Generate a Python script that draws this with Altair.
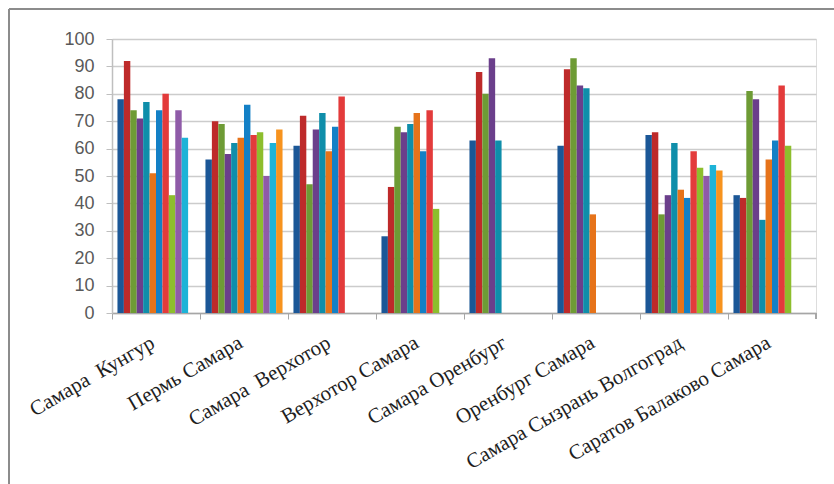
import altair as alt
import pandas as pd

categories = [
    "Самара\u00a0 Кунгур",
    "Пермь Самара",
    "Самара\u00a0 Верхотор",
    "Верхотор Самара",
    "Самара Оренбург",
    "Оренбург Самара",
    "Самара Сызрань Волгоград",
    "Саратов Балаково Самара",
]

series_names = [f"Ряд {i}" for i in range(1, 13)]

colors = [
    "#1B5797", "#BE2A2A", "#6E9B35", "#6B3F8B", "#0F8EAA", "#E6731A",
    "#1380C6", "#E33B3B", "#8DBE2D", "#8F5BA8", "#1DB3D7", "#F7931E",
]

samara_kungur = [78, 92, 74, 71, 77, 51, 74, 80, 43, 74, 64]
perm_samara = [56, 70, 69, 58, 62, 64, 76, 65, 66, 50, 62, 67]
samara_verkhotor = [61, 72, 47, 67, 73, 59, 68, 79]
verkhotor_samara = [28, 46, 68, 66, 69, 73, 59, 74, 38]
samara_orenburg = [63, 88, 80, 93, 63]
orenburg_samara = [61, 89, 93, 83, 82, 36]
samara_syzran_volgograd = [65, 66, 36, 43, 62, 45, 42, 59, 53, 50, 54, 52]
saratov_balakovo_samara = [43, 42, 81, 78, 34, 56, 63, 83, 61]

values_by_category = [
    samara_kungur, perm_samara, samara_verkhotor, verkhotor_samara,
    samara_orenburg, orenburg_samara, samara_syzran_volgograd,
    saratov_balakovo_samara,
]

rows = []
for cat, vals in zip(categories, values_by_category):
    for i, v in enumerate(vals):
        rows.append({"cat": cat, "series": series_names[i], "value": v})
df = pd.DataFrame(rows)

W, H = 704, 274

bars = alt.Chart(df).mark_bar().encode(
    x=alt.X(
        "cat:N",
        sort=categories,
        scale=alt.Scale(paddingInner=0, paddingOuter=0),
        axis=alt.Axis(
            title=None,
            bandPosition=0,
            labelAngle=330,
            labelAlign="right",
            labelBaseline="middle",
            labelFont="Liberation Serif",
            labelFontSize=21,
            labelColor="#1E1E1E",
            labelPadding=22,
            labelOffset=-3,
            tickSize=6,
            tickColor="#A6A6A6",
            domainColor="#A6A6A6",
            domainWidth=1.5,
            grid=False,
            labelLimit=400,
        ),
    ),
    xOffset=alt.XOffset(
        "series:N",
        sort=series_names,
        scale=alt.Scale(domain=series_names, paddingInner=0, paddingOuter=0.85),
    ),
    y=alt.Y(
        "value:Q",
        scale=alt.Scale(domain=[0, 100], nice=False),
        axis=alt.Axis(
            title=None,
            values=list(range(0, 101, 10)),
            labelFont="Liberation Sans",
            labelFontSize=18,
            labelColor="#595959",
            labelPadding=12,
            tickSize=6,
            tickColor="#BFBFBF",
            domainColor="#BFBFBF",
            domainWidth=1.5,
            gridColor="#CCCCCC",
            gridWidth=1.5,
        ),
    ),
    color=alt.Color(
        "series:N",
        scale=alt.Scale(domain=series_names, range=colors),
        legend=None,
    ),
)

end_tick = alt.Chart(df).mark_rule(color="#A6A6A6", strokeWidth=1).encode(
    x=alt.value(W), y=alt.value(H), y2=alt.value(H + 6)
)

frame_top = alt.Chart(df).mark_rule(color="#8C8C8C", strokeWidth=1.5).encode(
    x=alt.value(-103), x2=alt.value(W + 30), y=alt.value(-30)
)
frame_left = alt.Chart(df).mark_rule(color="#8C8C8C", strokeWidth=1.5).encode(
    x=alt.value(-103), y=alt.value(-30), y2=alt.value(H + 200)
)

chart = alt.layer(bars, end_tick, frame_top, frame_left).properties(
    width=W,
    height=H,
    autosize=alt.AutoSizeParams(type="none"),
    padding={"left": 112, "top": 39, "right": 18, "bottom": 171},
).configure_view(strokeWidth=0).configure(background="white")

chart.save("out.html", embed_options={"renderer": "svg", "actions": False})
